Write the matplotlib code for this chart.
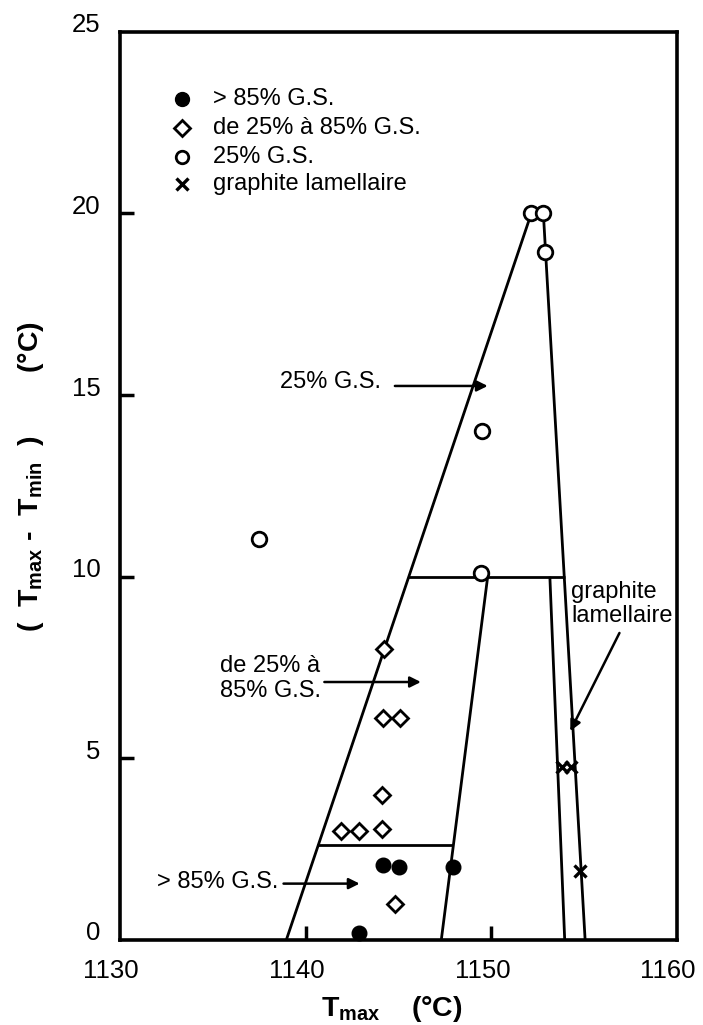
import matplotlib
matplotlib.use("Agg")
import matplotlib.pyplot as plt
from matplotlib.transforms import ScaledTranslation

plt.rcParams['font.family'] = ['Liberation Sans', 'DejaVu Sans']
plt.rcParams['mathtext.fontset'] = 'custom'
plt.rcParams['mathtext.rm'] = 'Liberation Sans:bold'
plt.rcParams['mathtext.it'] = 'Liberation Sans:bold'
plt.rcParams['mathtext.bf'] = 'Liberation Sans:bold'
plt.rcParams['mathtext.default'] = 'rm'

# ---- data ----
gs85_x = [1144.15, 1145.0, 1147.95, 1142.85]
gs85_y = [2.05, 2.0, 2.0, 0.2]

mid_x = [1144.2, 1144.15, 1145.1, 1144.1, 1141.9, 1142.85, 1144.1, 1144.8]
mid_y = [8.0, 6.1, 6.1, 4.0, 3.0, 3.0, 3.05, 1.0]

gs25_x = [1152.15, 1152.8, 1152.9, 1149.5, 1137.5, 1149.45]
gs25_y = [20.0, 20.0, 18.95, 14.0, 11.05, 10.1]

lam_x = [1153.8, 1154.3, 1154.75]
lam_y = [4.75, 4.75, 1.9]

# boundary lines (x pairs, y pairs)
left_line_x = [1138.95, 1152.15]
left_line_y = [0, 20]
right_line_x = [1152.8, 1155.05]
right_line_y = [20, 0]
mid_line_x = [1149.8, 1147.3]
mid_line_y = [10, 0]
inner_line_x = [1153.15, 1153.95]
inner_line_y = [10, 0]
h10_x = [1145.5, 1153.95]
h10_y = [10, 10]
h26_x = [1140.6, 1147.95]
h26_y = [2.6, 2.6]

legend_labels = ['> 85% G.S.', 'de 25% à 85% G.S.', '25% G.S.', 'graphite lamellaire']
xticks = [1130, 1140, 1150, 1160]
yticks = [0, 5, 10, 15, 20, 25]

fig = plt.figure(figsize=(7.03, 10.25), dpi=100)
ax = fig.add_axes([0.171, 0.083, 0.792, 0.886])
ax.set_xlim(1130, 1160)
ax.set_ylim(0, 25)

lw = 2.0
for xs, ys in [(left_line_x, left_line_y), (right_line_x, right_line_y),
               (mid_line_x, mid_line_y), (inner_line_x, inner_line_y),
               (h10_x, h10_y), (h26_x, h26_y)]:
    ax.plot(xs, ys, color='black', lw=lw, solid_capstyle='butt', zorder=2)

ax.plot(gs85_x, gs85_y, 'o', ms=10.5, color='black', zorder=3, clip_on=False)
ax.plot(mid_x, mid_y, 'D', ms=8.5, mfc='white', mec='black', mew=2.0, zorder=3)
ax.plot(gs25_x, gs25_y, 'o', ms=10.5, mfc='white', mec='black', mew=2.0, zorder=3)
ax.plot(lam_x, lam_y, 'x', ms=9, color='black', mew=2.4, zorder=3)

# legend (drawn manually)
leg_y = [23.15, 22.35, 21.55, 20.8]
leg_m = [dict(marker='o', ms=10, mfc='black', mec='black'),
         dict(marker='D', ms=8, mfc='white', mec='black', mew=2.0),
         dict(marker='o', ms=9, mfc='white', mec='black', mew=2.0),
         dict(marker='x', ms=9, color='black', mew=2.4)]
for yy, lab, m in zip(leg_y, legend_labels, leg_m):
    ax.plot([1133.35], [yy], linestyle='none', **m)
    ax.text(1135.0, yy, lab, fontsize=17, va='center', ha='left')

# annotations
ap = dict(arrowstyle='-|>', lw=1.8, color='black', mutation_scale=16, shrinkA=0, shrinkB=0)
ax.text(1138.6, 15.35, '25% G.S.', fontsize=17, va='center', ha='left')
ax.annotate('', xy=(1149.8, 15.25), xytext=(1144.8, 15.25), arrowprops=ap)

ax.text(1135.4, 7.2, 'de 25% à\n85% G.S.', fontsize=17, va='center', ha='left', linespacing=1.15)
ax.annotate('', xy=(1146.2, 7.1), xytext=(1141.0, 7.1), arrowprops=ap)

ax.text(1132.0, 1.6, '> 85% G.S.', fontsize=17, va='center', ha='left')
ax.annotate('', xy=(1142.9, 1.55), xytext=(1138.8, 1.55), arrowprops=ap)

ax.text(1154.3, 9.25, 'graphite\nlamellaire', fontsize=17, va='center', ha='left', linespacing=1.15)
ax.annotate('', xy=(1154.25, 5.75), xytext=(1156.9, 8.45), arrowprops=ap)

# axes styling
for side in ['top', 'right', 'left', 'bottom']:
    ax.spines[side].set_linewidth(2.6)
ax.set_xticks(xticks)
ax.set_yticks(yticks)
ax.set_xticklabels([str(v) for v in xticks])
ax.set_yticklabels([str(v) for v in yticks])
ax.tick_params(axis='both', direction='in', length=10, width=2.5, labelsize=18.5,
               top=False, right=False)
ax.tick_params(axis='y', pad=14)
ax.tick_params(axis='x', pad=14)
for t in ax.get_yticklabels():
    t.set_transform(t.get_transform() + ScaledTranslation(0, 9 / 100, fig.dpi_scale_trans))
for t in ax.get_xticklabels():
    t.set_transform(t.get_transform() + ScaledTranslation(-9 / 100, 0, fig.dpi_scale_trans))
# hide tick marks at the axis ends
for tl in ax.xaxis.get_major_ticks():
    if tl.get_loc() in (1130, 1160):
        tl.tick1line.set_visible(False)
for tl in ax.yaxis.get_major_ticks():
    if tl.get_loc() in (0, 25):
        tl.tick1line.set_visible(False)

fig.text(392 / 703, 1 - 1009 / 1025, r'T$_{\mathrm{max}}$    (°C)', fontsize=20.5,
         fontweight='bold', ha='center', va='center')
fig.text(31 / 703, 1 - 476 / 1025,
         r'(  T$_{\mathrm{max}}$ -  T$_{\mathrm{min}}$  )        (°C)',
         fontsize=20.5, fontweight='bold', rotation=90, ha='center', va='center')

fig.savefig('out.png', dpi=100)
